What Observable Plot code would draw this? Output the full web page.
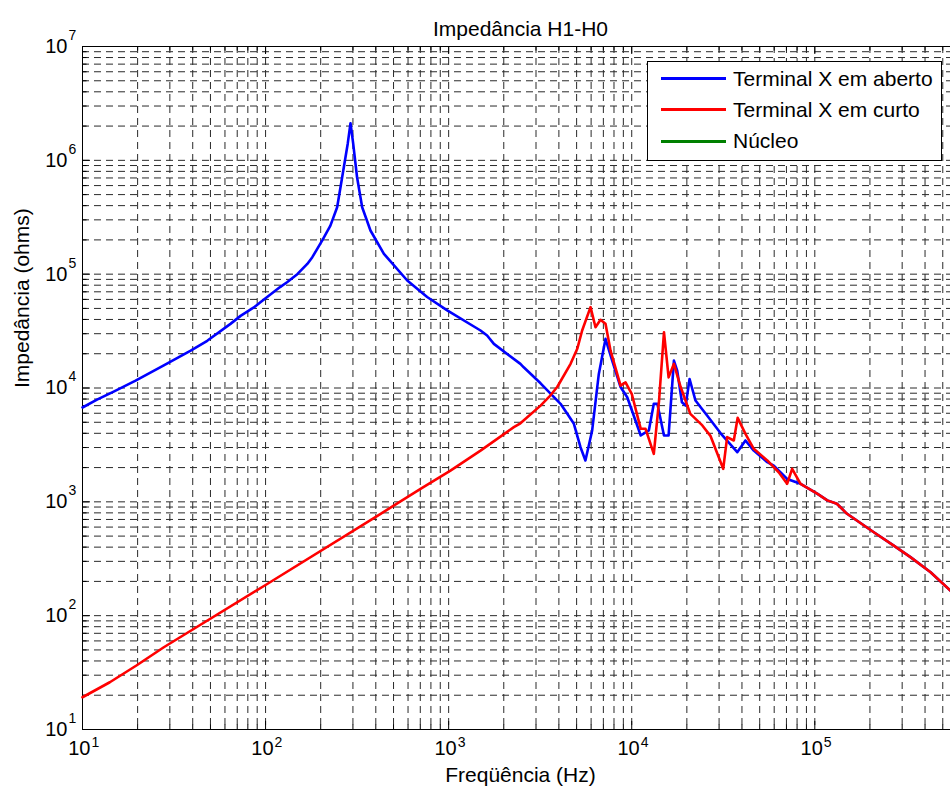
<!DOCTYPE html>
<html>
<head>
<meta charset="utf-8">
<script src="https://cdn.jsdelivr.net/npm/d3@7"></script>
<script src="https://cdn.jsdelivr.net/npm/@observablehq/plot@0.6"></script>
<style>
html,body{margin:0;padding:0;background:#fff;overflow:hidden;}
#wrap{position:relative;width:950px;height:793px;font-family:"Liberation Sans",Arial,Helvetica,sans-serif;}
#legend{position:absolute;left:647px;top:61px;width:293px;height:98px;background:#fff;border:1px solid #000;}
.lrow{position:absolute;left:0;width:100%;height:24px;}
.lline{position:absolute;left:13px;top:10.5px;width:65px;height:3px;}
.ltext{position:absolute;left:85px;top:0;line-height:24px;font-size:21px;color:#000;white-space:nowrap;}
</style>
</head>
<body>
<div id="wrap"><div id="chart"></div><div id="legend"></div></div>
<script>
// ---- data ----
const seriesNames = ["Terminal X em aberto", "Terminal X em curto", "Núcleo"];
const seriesColors = ["#0000ff", "#ff0000", "#008000"];

// Terminal X em aberto (blue)
const freqAberto = [10, 12, 14.8, 19.5, 27.8, 39, 48, 64.3, 73, 86.3, 93.7, 120, 131, 149, 169, 180, 204, 226, 246, 262, 281, 291, 301, 316, 337, 374, 443, 594, 763, 982, 1493, 1622, 1766, 2466, 2570, 3177, 4084, 4446, 4831, 5250, 5585, 6080, 6610, 7190, 7820, 8690, 9450, 11200, 12400, 13200, 13800, 15000, 15900, 17000, 17700, 18800, 19700, 20700, 22300, 23800, 25800, 30600, 37700, 41800, 46400, 55000, 59700, 70600, 83600, 103000, 117000, 132000, 150000, 210000, 270000, 333000, 429000, 550000];
const zAberto = [6740, 7900, 9300, 11600, 15800, 21300, 26000, 36600, 43000, 51000, 56700, 77000, 85000, 100000, 123000, 141000, 198000, 267000, 387000, 710000, 1400000, 2120000, 1400000, 710000, 387000, 242000, 151000, 88000, 63000, 48000, 32000, 28900, 24400, 16300, 15200, 11000, 7260, 5930, 4850, 3020, 2310, 4240, 13300, 27000, 17400, 10200, 8300, 3830, 4240, 7260, 7260, 3830, 3830, 17400, 14300, 7500, 7000, 12000, 7760, 6780, 5730, 4000, 2730, 3460, 2820, 2230, 2080, 1590, 1440, 1180, 1030, 962, 785, 541, 413, 327, 241, 166];

// Terminal X em curto (red)
const freqCurto = [10, 14.1, 19.7, 27.8, 100, 425, 702, 1023, 1493, 2270, 2466, 3177, 3524, 3917, 4634, 5040, 5360, 5956, 6340, 6750, 7190, 7660, 8690, 9250, 10000, 11200, 11900, 13200, 14100, 15000, 15900, 17000, 18500, 20900, 24300, 26900, 31600, 33200, 36100, 37900, 41800, 46400, 55000, 63500, 70600, 75200, 83600, 103000, 117000, 132000, 150000, 210000, 270000, 333000, 429000, 550000];
const zCurto = [19.2, 26, 36.5, 52.8, 186, 785, 1300, 1880, 2820, 4530, 4900, 7000, 8300, 10200, 16300, 22100, 32000, 51300, 34200, 39700, 36600, 21300, 10500, 11200, 8900, 4380, 4380, 2640, 7760, 30900, 12400, 16300, 10200, 5930, 4690, 3800, 1950, 3700, 3460, 5470, 3950, 2920, 2310, 1820, 1440, 1950, 1440, 1180, 1030, 962, 785, 541, 413, 327, 241, 166];

// Núcleo (green): no visible points in the figure
const freqNucleo = [];
const zNucleo = [];

// axis ticks
const xMajor = [1e1, 1e2, 1e3, 1e4, 1e5];
const xExp = ["1", "2", "3", "4", "5"];
const yMajor = [1e1, 1e2, 1e3, 1e4, 1e5, 1e6, 1e7];
const yExp = ["1", "2", "3", "4", "5", "6", "7"];
const minorMult = [2, 3, 4, 5, 6, 7, 8, 9];
const xMax = 5.51e5;

const titleText = "Impedância H1-H0";
const xLabel = "Freqüência (Hz)";
const yLabel = "Impedância (ohms)";

// ---- build ----
const toRows = (fs, zs) => fs.map((f, i) => ({f, z: zs[i]}));
const aberto = toRows(freqAberto, zAberto);
const curto = toRows(freqCurto, zCurto);
const nucleo = toRows(freqNucleo, zNucleo);

const xMinor = xMajor.flatMap(d => minorMult.map(m => d * m)).filter(v => v <= xMax);
const yMinor = yMajor.slice(0, -1).flatMap(d => minorMult.map(m => d * m));

const W = 950, H = 793, mL = 82, mR = 0, mT = 46, mB = 64;
const FW = W - mL - mR, FH = H - mT - mB;
const font = '"Liberation Sans", Arial, Helvetica, sans-serif';
const gridStyle = {stroke: "#2a2a2a", strokeWidth: 1, strokeDasharray: "7,5"};
const lw = 2.6;

const chart = Plot.plot({
  width: W, height: H,
  marginLeft: mL, marginRight: mR, marginTop: mT, marginBottom: mB,
  style: {fontFamily: font, background: "#fff", overflow: "visible"},
  x: {type: "log", domain: [10, xMax], axis: null},
  y: {type: "log", domain: [10, 1e7], axis: null},
  marks: [
    // grid
    Plot.ruleX(xMajor.concat(xMinor), {x: d => d, ...gridStyle}),
    Plot.ruleY(yMajor.concat(yMinor), {y: d => d, ...gridStyle}),
    // inward ticks bottom / top
    Plot.tickX(xMajor, {x: d => d, stroke: "#000", insetTop: FH - 8}),
    Plot.tickX(xMinor, {x: d => d, stroke: "#000", insetTop: FH - 4.5}),
    Plot.tickX(xMajor, {x: d => d, stroke: "#000", insetBottom: FH - 8}),
    Plot.tickX(xMinor, {x: d => d, stroke: "#000", insetBottom: FH - 4.5}),
    // inward ticks left
    Plot.tickY(yMajor, {y: d => d, stroke: "#000", insetRight: FW - 8}),
    Plot.tickY(yMinor, {y: d => d, stroke: "#000", insetRight: FW - 4.5}),
    // axis lines
    Plot.ruleX([10], {x: d => d, stroke: "#000"}),
    Plot.ruleY([10, 1e7], {y: d => d, stroke: "#000"}),
    // series
    Plot.line(aberto, {x: "f", y: "z", stroke: seriesColors[0], strokeWidth: lw}),
    Plot.line(curto, {x: "f", y: "z", stroke: seriesColors[1], strokeWidth: lw}),
    Plot.line(nucleo, {x: "f", y: "z", stroke: seriesColors[2], strokeWidth: lw}),
    // x tick labels
    Plot.text(xMajor, {x: d => d, text: () => "10", frameAnchor: "bottom", textAnchor: "end", dx: 8, dy: 25, fontSize: 20, fontFamily: font, fill: "#000"}),
    Plot.text(xMajor, {x: d => d, text: (d, i) => xExp[i], frameAnchor: "bottom", textAnchor: "start", dx: 9, dy: 17, fontSize: 14, fontFamily: font, fill: "#000"}),
    // y tick labels
    Plot.text(yMajor, {y: d => d, text: () => "10", frameAnchor: "left", textAnchor: "end", dx: -15, fontSize: 20, fontFamily: font, fill: "#000"}),
    Plot.text(yMajor, {y: d => d, text: (d, i) => yExp[i], frameAnchor: "left", textAnchor: "start", dx: -14, dy: -11, fontSize: 14, fontFamily: font, fill: "#000"}),
    // title & labels
    Plot.text([titleText], {text: d => d, frameAnchor: "top", dx: 4, dy: -25, fontSize: 21, fontFamily: font, fill: "#000"}),
    Plot.text([xLabel], {text: d => d, frameAnchor: "bottom", dx: 4, dy: 52, fontSize: 21, fontFamily: font, fill: "#000"}),
    Plot.text([yLabel], {text: d => d, frameAnchor: "left", rotate: -90, dx: -60, fontSize: 21, fontFamily: font, fill: "#000"})
  ]
});
document.getElementById("chart").appendChild(chart);

// legend
const legend = document.getElementById("legend");
const rowCenters = [16.5, 47.5, 79];
seriesNames.forEach((name, i) => {
  const row = document.createElement("div");
  row.className = "lrow";
  row.style.top = (rowCenters[i] - 12) + "px";
  const line = document.createElement("div");
  line.className = "lline";
  line.style.background = seriesColors[i];
  const txt = document.createElement("div");
  txt.className = "ltext";
  txt.textContent = name;
  row.appendChild(line);
  row.appendChild(txt);
  legend.appendChild(row);
});
</script>
</body>
</html>
